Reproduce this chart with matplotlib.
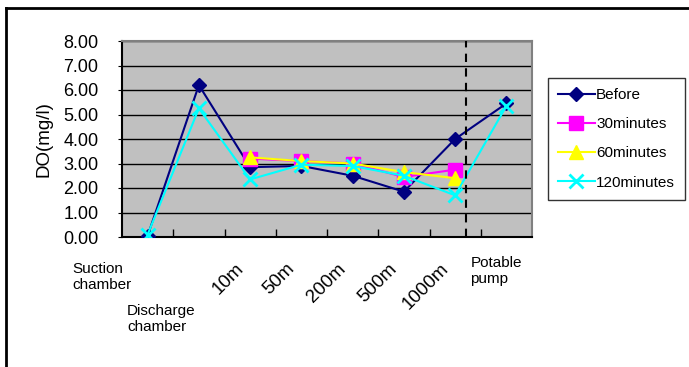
import numpy as np
import matplotlib.pyplot as plt
import matplotlib.transforms as mtransforms
from matplotlib.lines import Line2D

plt.rcParams['font.family'] = ['Liberation Sans', 'DejaVu Sans']

# %%
sites = ["Suction\nchamber", "Discharge\nchamber", "10m", "50m", "200m", "500m", "1000m", "Potable\npump"]
before = [0.05, 6.2, 2.85, 2.9, 2.5, 1.85, 4.0, 5.45]
min30 = [np.nan, np.nan, 3.2, 3.1, 3.0, 2.45, 2.75, np.nan]
min60 = [np.nan, np.nan, 3.25, 3.1, 3.0, 2.65, 2.4, np.nan]
min120 = [0.1, 5.25, 2.35, 2.95, 2.9, 2.5, 1.7, 5.35]
yticks = [0, 1, 2, 3, 4, 5, 6, 7, 8]

x = np.arange(len(sites)) + 0.5

# %%
fig = plt.figure(figsize=(6.89, 3.67), dpi=100)
ax = fig.add_axes([122/689, 1-237/367, 410/689, 196/367])
ax.set_facecolor("#c0c0c0")

ax.plot(x, before, color="#000080", lw=1.5, marker="D", ms=7.5, label="Before", zorder=3)
ax.plot(x, min30, color="#ff00ff", lw=1.5, marker="s", ms=10, label="30minutes", zorder=4)
ax.plot(x, min60, color="#ffff00", lw=1.5, marker="^", ms=10, label="60minutes", zorder=5)
ax.plot(x, min120, color="#00ffff", lw=1.5, marker="x", ms=10, mew=2, label="120minutes", zorder=6)

ax.axvline(6.71, color="black", ls=(0, (4, 3)), lw=1.5, zorder=7)

ax.set_xlim(0, 8)
ax.set_ylim(0, 8)
ax.set_yticks(yticks)
ax.set_yticklabels(["%.2f" % v for v in yticks], fontsize=13)
ax.yaxis.grid(True, color="black", lw=1)
ax.set_axisbelow(True)
ax.tick_params(axis="y", length=3, pad=14)
ax.set_xticks(np.arange(1, 8))
ax.set_xticklabels([])
ax.tick_params(axis="x", direction="in", length=6, width=1)
ax.set_ylabel("DO(mg/l)", fontsize=13.5, labelpad=8)

for s in ["top", "right"]:
    ax.spines[s].set_color("#808080")
    ax.spines[s].set_linewidth(1.5)
for s in ["left", "bottom"]:
    ax.spines[s].set_color("black")
    ax.spines[s].set_linewidth(1.5)

# category labels
trans = mtransforms.blended_transform_factory(ax.transData, fig.transFigure)
ax.text(x[0] - 1.47, 1 - 262/367, sites[0], transform=trans, fontsize=11,
        ha="left", va="top", linespacing=1.2)
ax.text(x[1] - 1.4, 1 - 304/367, sites[1], transform=trans, fontsize=11,
        ha="left", va="top", linespacing=1.2)
ax.text(x[7] - 0.7, 1 - 256/367, sites[7], transform=trans, fontsize=11,
        ha="left", va="top", linespacing=1.2)
for i in range(2, 7):
    ax.text(x[i] - 0.3, 1 - 260/367, sites[i], transform=trans, fontsize=13.5,
            rotation=45, ha="right", va="top", rotation_mode="anchor")

handles, labels = ax.get_legend_handles_labels()
leg = fig.legend(handles, labels, loc="upper left", bbox_to_anchor=(548/689, 1 - 78/367),
                 frameon=True, fancybox=False, edgecolor="black", fontsize=11,
                 handlelength=2.4, handletextpad=0.1, labelspacing=1.0, borderpad=0.65,
                 borderaxespad=0)
leg.get_frame().set_linewidth(1)

# outer frame
fig.add_artist(Line2D([6/689, 6/689], [0, 1 - 8/367], color="black", lw=2, transform=fig.transFigure))
fig.add_artist(Line2D([6/689, 1], [1 - 8/367, 1 - 8/367], color="black", lw=2, transform=fig.transFigure))

fig.savefig("out.png", dpi=100)
